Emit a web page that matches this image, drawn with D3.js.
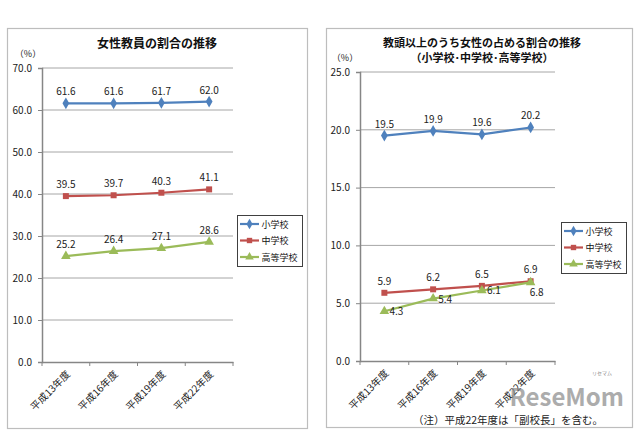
<!DOCTYPE html>
<html><head><meta charset="utf-8">
<script src="https://cdn.jsdelivr.net/npm/d3@7"></script>
<style>body{margin:0;background:#fff}svg{display:block}text{font-family:"Noto Sans CJK JP","Noto Sans",sans-serif}</style>
</head><body>
<svg id="c" width="640" height="434"></svg>
<script>
const categories = ["平成13年度","平成16年度","平成19年度","平成22年度"];
const seriesNames = ["小学校","中学校","高等学校"];
const colors = ["#4F81BD","#C0504D","#9BBB59"];
const leftValues = [[61.6,61.6,61.7,62.0],[39.5,39.7,40.3,41.1],[25.2,26.4,27.1,28.6]];
const rightValues = [[19.5,19.9,19.6,20.2],[5.9,6.2,6.5,6.9],[4.3,5.4,6.1,6.8]];
const leftTicks = [0,10,20,30,40,50,60,70];
const rightTicks = [0,5,10,15,20,25];
const leftTitle = ["女性教員の割合の推移"];
const rightTitle = ["教頭以上のうち女性の占める割合の推移","（小学校･中学校･高等学校）"];
const note = "（注）平成22年度は「副校長」を含む。";
const unit = "（%）";

const svg = d3.select("#c");
const symbols = [d3.symbolDiamond, d3.symbolSquare, d3.symbolTriangle];
const symSizes = [40, 36, 40];

function panel(cfg){
  const g = svg.append("g");
  g.append("rect").attr("x",cfg.box[0]+0.5).attr("y",cfg.box[1]+0.5)
    .attr("width",cfg.box[2]).attr("height",cfg.box[3])
    .attr("fill","#fff").attr("stroke","#BDBDBD").attr("stroke-width",1.2);
  const x = d3.scaleBand().domain(categories).range([cfg.x0,cfg.x1]);
  const y = d3.scaleLinear().domain([0,d3.max(cfg.ticks)]).range([cfg.y0,cfg.y1]);
  g.selectAll(".grid").data(cfg.ticks.slice(1)).join("line")
    .attr("x1",cfg.x0).attr("x2",cfg.x1).attr("y1",d=>y(d)).attr("y2",d=>y(d))
    .attr("stroke","#A6A6A6").attr("stroke-width",1);
  const ya = g.append("g").attr("transform",`translate(${cfg.x0},0)`)
    .call(d3.axisLeft(y).tickValues(cfg.ticks).tickFormat(d3.format(".1f")).tickSize(4).tickPadding(6));
  ya.select(".domain").attr("stroke","#868686").attr("stroke-width",1.5);
  ya.selectAll(".tick line").attr("stroke","#868686");
  ya.selectAll("text").attr("font-size",10).attr("fill","#222");
  const xa = g.append("g").attr("transform",`translate(0,${cfg.y0})`)
    .call(d3.axisBottom(x).tickSize(0).tickFormat(""));
  xa.select(".domain").attr("stroke","#868686").attr("stroke-width",1.5);
  const bounds = [cfg.x0].concat(categories.map(c=>x(c)+x.bandwidth()));
  g.selectAll(".xt").data(bounds).join("line")
    .attr("x1",d=>d).attr("x2",d=>d).attr("y1",cfg.y0).attr("y2",cfg.y0+4)
    .attr("stroke","#868686");
  g.selectAll(".xl").data(categories).join("text")
    .attr("transform",d=>`translate(${x(d)+x.bandwidth()/2+5},${cfg.y0+13}) rotate(-45)`)
    .attr("text-anchor","end").attr("font-size",10).attr("fill","#222").text(d=>d);
  g.append("text").attr("x",cfg.unitPos[0]).attr("y",cfg.unitPos[1]).attr("font-size",9)
    .attr("text-anchor","middle").attr("fill","#222").text(unit);
  cfg.title.forEach((t,i)=>{
    g.append("text").attr("x",cfg.titleX).attr("y",cfg.titleY+i*15).attr("text-anchor","middle")
      .attr("font-size",cfg.titleSize).attr("font-weight","bold").attr("fill","#111").text(t);
  });
  const line = d3.line().x((d,i)=>x(categories[i])+x.bandwidth()/2).y(d=>y(d));
  cfg.values.forEach((vals,s)=>{
    g.append("path").datum(vals).attr("d",line).attr("fill","none")
      .attr("stroke",colors[s]).attr("stroke-width",2.2);
    g.selectAll(".m"+s).data(vals).join("path")
      .attr("transform",(d,i)=>`translate(${x(categories[i])+x.bandwidth()/2},${y(d)})`)
      .attr("d",d3.symbol().type(symbols[s]).size(symSizes[s])).attr("fill",colors[s]);
    g.selectAll(".l"+s).data(vals).join("text")
      .attr("x",(d,i)=>x(categories[i])+x.bandwidth()/2+cfg.labelPos(s,i)[0])
      .attr("y",(d,i)=>y(d)+cfg.labelPos(s,i)[1])
      .attr("text-anchor",(d,i)=>cfg.labelPos(s,i)[2])
      .attr("font-size",10).attr("fill","#222").text(d=>d.toFixed(1));
  });
  const L = cfg.legend;
  g.append("rect").attr("x",L[0]+0.5).attr("y",L[1]+0.5).attr("width",L[2]).attr("height",L[3])
    .attr("fill","#fff").attr("stroke","#404040").attr("stroke-width",1);
  seriesNames.forEach((n,s)=>{
    const yy = L[1]+9+s*(L[3]-18)/2;
    g.append("line").attr("x1",L[0]+3).attr("x2",L[0]+22).attr("y1",yy).attr("y2",yy)
      .attr("stroke",colors[s]).attr("stroke-width",2.2);
    g.append("path").attr("transform",`translate(${L[0]+12.5},${yy})`)
      .attr("d",d3.symbol().type(symbols[s]).size(symSizes[s]*0.8)).attr("fill",colors[s]);
    g.append("text").attr("x",L[0]+24.5).attr("y",yy+3.5).attr("font-size",9).attr("fill","#111").text(n);
  });
}

panel({box:[7,28,300,400], x0:42, x1:233, y0:362, y1:68, ticks:leftTicks, values:leftValues,
  title:leftTitle, titleSize:12, titleX:157, titleY:48, unitPos:[28,57], legend:[237,215,65,51],
  labelPos:(s,i)=>[0,-8,"middle"]});
panel({box:[326,28,306,399], x0:360, x1:555, y0:361, y1:72, ticks:rightTicks, values:rightValues,
  title:rightTitle, titleSize:11, titleX:482, titleY:47, unitPos:[345,61], legend:[561,222,65,51],
  labelPos:(s,i)=>{ if(s===2){ return i<3?[5,4,"start"]:[6,14,"middle"]; } return [0,-8,"middle"]; }});

svg.append("text").attr("x",624).attr("y",406).attr("text-anchor","end").attr("font-size",24)
  .attr("font-weight","bold").attr("fill","#8a8a8a").attr("opacity",0.7)
  .attr("font-family","Liberation Sans, sans-serif").text("ReseMom");
svg.append("text").attr("x",612).attr("y",375).attr("text-anchor","end").attr("font-size",5)
  .attr("fill","#8a8a8a").text("リセマム");
svg.append("text").attr("x",508).attr("y",424).attr("text-anchor","middle").attr("font-size",10.5)
  .attr("fill","#222").text(note);
</script>
</body></html>
